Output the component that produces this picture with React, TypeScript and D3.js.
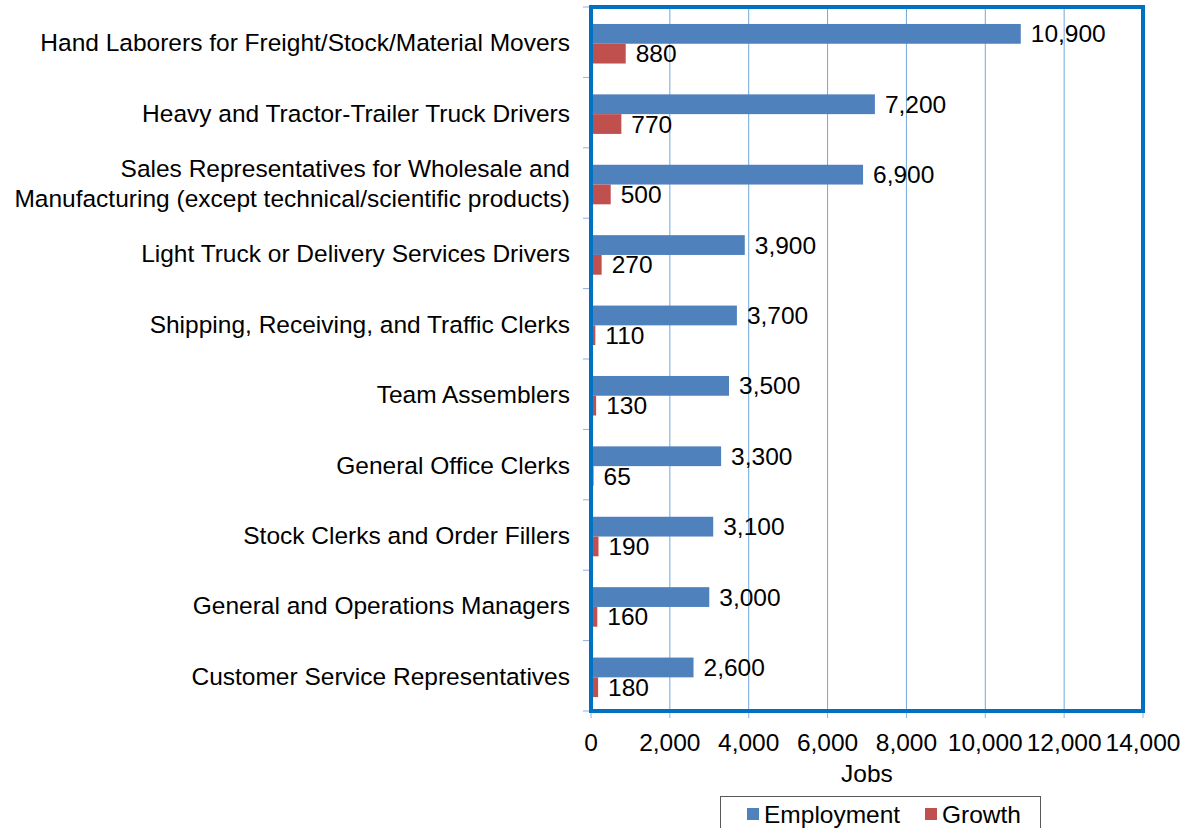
import React, { useEffect, useRef } from 'react';
import * as d3 from 'd3';

// Occupations, top to bottom
const categories = [
  'Hand Laborers for Freight/Stock/Material Movers',
  'Heavy and Tractor-Trailer Truck Drivers',
  'Sales Representatives for Wholesale and\nManufacturing (except technical/scientific products)',
  'Light Truck or Delivery Services Drivers',
  'Shipping, Receiving, and Traffic Clerks',
  'Team Assemblers',
  'General Office Clerks',
  'Stock Clerks and Order Fillers',
  'General and Operations Managers',
  'Customer Service Representatives',
];

const employment = [10900, 7200, 6900, 3900, 3700, 3500, 3300, 3100, 3000, 2600];
const growth = [880, 770, 500, 270, 110, 130, 65, 190, 160, 180];

const seriesNames = ['Employment', 'Growth'];
const seriesColors = ['#4F81BD', '#C0504D'];

const xTicks = [0, 2000, 4000, 6000, 8000, 10000, 12000, 14000];

const App = () => {
  const ref = useRef<SVGSVGElement>(null);

  useEffect(() => {
    const width = 1187;
    const height = 828;
    const left = 591;
    const right = 1143;
    const top = 7;
    const bottom = 711;
    const font = '"Liberation Sans", Arial, sans-serif';
    const fontSize = 24.5;

    const svg = d3.select(ref.current);
    svg.selectAll('*').remove();
    svg.attr('width', width).attr('height', height);

    const x = d3.scaleLinear().domain([0, 14000]).range([left, right]);
    const y = d3.scaleBand().domain(categories).range([top, bottom]);
    const inner = d3
      .scaleBand()
      .domain(seriesNames)
      .range([0, y.bandwidth()])
      .paddingOuter(0.78)
      .align(0.55);

    // vertical gridlines
    svg
      .append('g')
      .selectAll('line')
      .data(xTicks.slice(1, -1))
      .enter()
      .append('line')
      .attr('x1', d => x(d))
      .attr('x2', d => x(d))
      .attr('y1', top)
      .attr('y2', bottom)
      .attr('stroke', '#6FA8DC')
      .attr('stroke-width', 1);

    // bottom ticks
    svg
      .append('g')
      .selectAll('line')
      .data(xTicks)
      .enter()
      .append('line')
      .attr('x1', d => x(d))
      .attr('x2', d => x(d))
      .attr('y1', bottom)
      .attr('y2', bottom + 7)
      .attr('stroke', '#8DB3E2')
      .attr('stroke-width', 1);

    // left ticks at band boundaries
    const bounds = categories.map(c => y(c) as number).concat([bottom]);
    svg
      .append('g')
      .selectAll('line')
      .data(bounds)
      .enter()
      .append('line')
      .attr('x1', left - 8)
      .attr('x2', left)
      .attr('y1', d => d)
      .attr('y2', d => d)
      .attr('stroke', '#8DB3E2')
      .attr('stroke-width', 1);

    // bars
    const rows = categories.map((c, i) => ({ c, vals: [employment[i], growth[i]] }));
    const groups = svg
      .append('g')
      .selectAll('g')
      .data(rows)
      .enter()
      .append('g')
      .attr('transform', d => `translate(0,${y(d.c)})`);

    groups
      .selectAll('rect')
      .data(d => d.vals.map((v, j) => ({ v, s: seriesNames[j], color: seriesColors[j] })))
      .enter()
      .append('rect')
      .attr('x', x(0))
      .attr('y', d => inner(d.s) as number)
      .attr('width', d => x(d.v) - x(0))
      .attr('height', inner.bandwidth())
      .attr('fill', d => d.color);

    groups
      .selectAll('text')
      .data(d => d.vals.map((v, j) => ({ v, s: seriesNames[j] })))
      .enter()
      .append('text')
      .attr('x', d => x(d.v) + 10)
      .attr('y', d => (inner(d.s) as number) + inner.bandwidth() / 2)
      .attr('dominant-baseline', 'central')
      .attr('font-family', font)
      .attr('font-size', fontSize)
      .attr('fill', '#000')
      .text(d => d3.format(',')(d.v));

    // category labels
    const labels = svg
      .append('g')
      .selectAll('text')
      .data(categories)
      .enter()
      .append('text')
      .attr('x', 570)
      .attr('y', d => (y(d) as number) + y.bandwidth() / 2)
      .attr('text-anchor', 'end')
      .attr('font-family', font)
      .attr('font-size', fontSize)
      .attr('fill', '#000');
    labels.each(function (d) {
      const lines = d.split('\n');
      const lh = 30;
      const sel = d3.select(this);
      lines.forEach((ln, k) => {
        sel
          .append('tspan')
          .attr('x', 570)
          .attr('dy', k === 0 ? -((lines.length - 1) * lh) / 2 + 9 : lh)
          .text(ln);
      });
    });

    // plot border
    svg
      .append('rect')
      .attr('x', left)
      .attr('y', top)
      .attr('width', right - left)
      .attr('height', bottom - top)
      .attr('fill', 'none')
      .attr('stroke', '#0070C0')
      .attr('stroke-width', 4);

    // x tick labels
    svg
      .append('g')
      .selectAll('text')
      .data(xTicks)
      .enter()
      .append('text')
      .attr('x', d => x(d))
      .attr('y', 742)
      .attr('text-anchor', 'middle')
      .attr('dominant-baseline', 'central')
      .attr('font-family', font)
      .attr('font-size', fontSize)
      .attr('fill', '#000')
      .text(d => d3.format(',')(d));

    svg
      .append('text')
      .attr('x', 867)
      .attr('y', 773)
      .attr('text-anchor', 'middle')
      .attr('dominant-baseline', 'central')
      .attr('font-family', font)
      .attr('font-size', fontSize)
      .text('Jobs');

    // legend
    const legend = svg.append('g');
    legend
      .append('rect')
      .attr('x', 720.5)
      .attr('y', 796.5)
      .attr('width', 320)
      .attr('height', 40)
      .attr('fill', '#fff')
      .attr('stroke', '#595959')
      .attr('stroke-width', 1);
    const legendX = [747, 925];
    seriesNames.forEach((s, i) => {
      legend
        .append('rect')
        .attr('x', legendX[i])
        .attr('y', 808)
        .attr('width', 12)
        .attr('height', 12)
        .attr('fill', seriesColors[i]);
      legend
        .append('text')
        .attr('x', legendX[i] + 17)
        .attr('y', 814)
        .attr('dominant-baseline', 'central')
        .attr('font-family', font)
        .attr('font-size', fontSize)
        .text(s);
    });
  }, []);

  return (
    <svg
      ref={ref}
      style={{ position: 'absolute', left: 0, top: 0, display: 'block', background: '#fff' }}
    />
  );
};

export default App;
